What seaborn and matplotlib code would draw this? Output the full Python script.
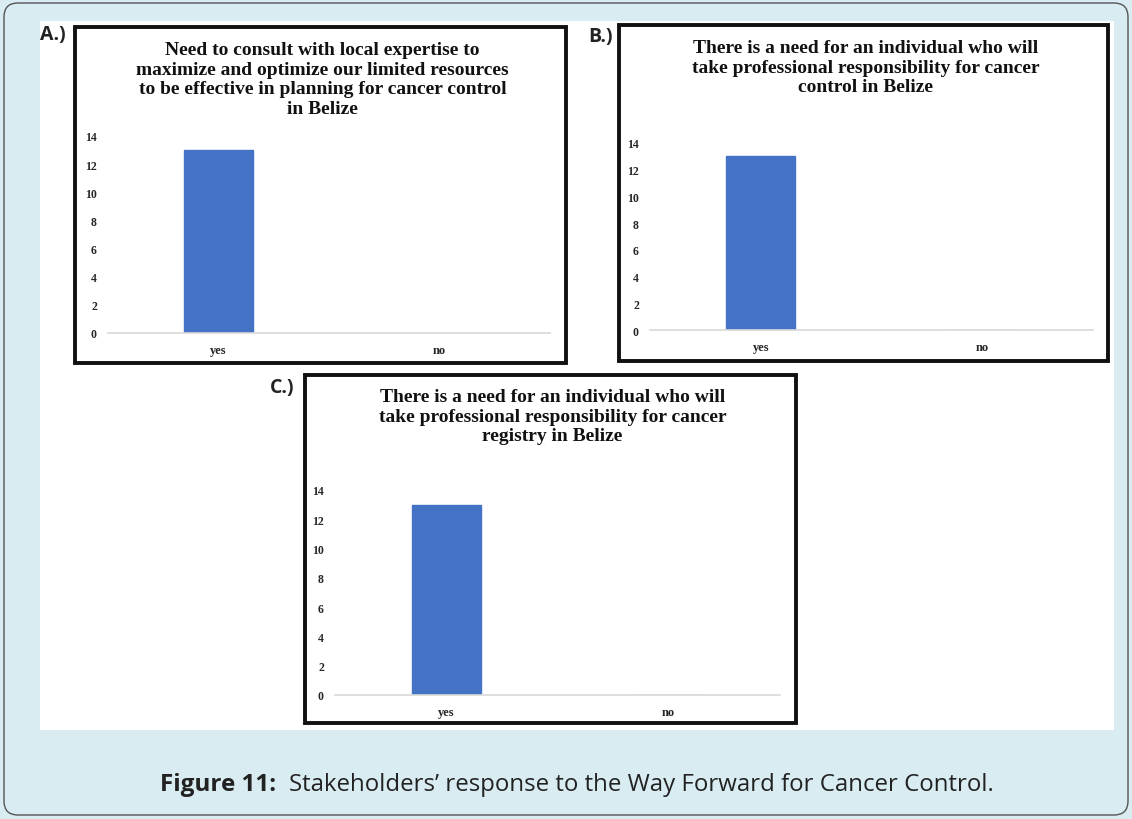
import matplotlib
matplotlib.use('Agg')
import matplotlib.pyplot as plt
import seaborn as sns
from matplotlib.patches import Rectangle, FancyBboxPatch

# Data
categories = ['yes', 'no']
values_a = [13, 0]
values_b = [13, 0]
values_c = [13, 0]
title_a = 'Need to consult with local expertise to\nmaximize and optimize our limited resources\nto be effective in planning for cancer control\nin Belize'
title_b = 'There is a need for an individual who will\ntake professional responsibility for cancer\ncontrol in Belize'
title_c = 'There is a need for an individual who will\ntake professional responsibility for cancer\nregistry in Belize'
y_ticks = [0, 2, 4, 6, 8, 10, 12, 14]

sns.set_style('white')
plt.rcParams['font.family'] = ['Liberation Serif', 'DejaVu Serif']

W, H = 1132, 820
fig = plt.figure(figsize=(W / 100, H / 100), dpi=100)
fig.patch.set_facecolor('#d8ecf1')


def fx(x):
    return x / W


def fy(y):
    return 1 - y / H


# outer rounded border
fig.patches.append(FancyBboxPatch((4, 4), W - 8, H - 8, boxstyle='round,pad=0,rounding_size=14',
                                  transform=None, facecolor='none', edgecolor='#555555', lw=1))
# white content area
fig.patches.append(Rectangle((fx(40), fy(731)), fx(1114 - 40), (731 - 22) / H,
                             transform=fig.transFigure, facecolor='white', edgecolor='none', zorder=0))


def panel(box, axbox, values, title, title_y, label, label_xy):
    x0, y0, x1, y1 = box
    fig.patches.append(Rectangle((fx(x0), fy(y1)), fx(x1 - x0), (y1 - y0) / H,
                                 transform=fig.transFigure, facecolor='white',
                                 edgecolor='#111111', lw=2.8, zorder=1))
    l, t, r, b = axbox
    ax = fig.add_axes([fx(l), fy(b), fx(r - l), (b - t) / H])
    ax.set_zorder(2)
    sns.barplot(x=categories, y=values, ax=ax, color='#4472c4', width=0.31,
                edgecolor='#4472c4', saturation=1)
    ax.set_ylim(0, 14)
    ax.set_xlim(-0.5, 1.5)
    ax.set_yticks(y_ticks)
    ax.set_yticklabels([str(v) for v in y_ticks], fontsize=8.5, fontweight='bold')
    ax.tick_params(axis='both', length=0, pad=8)
    for lab in ax.get_xticklabels():
        lab.set_fontsize(9)
        lab.set_fontweight('bold')
    ax.set_facecolor('none')
    for s in ['top', 'right', 'left']:
        ax.spines[s].set_visible(False)
    ax.spines['bottom'].set_color('#d9d9d9')
    ax.spines['bottom'].set_linewidth(1.2)
    ax.set_xlabel('')
    ax.set_ylabel('')
    fig.text(fx((x0 + x1) / 2 + 2), fy(title_y), title, ha='center', va='top',
             fontsize=14, fontweight='bold', linespacing=1.2, zorder=3, color='#111111')
    fig.text(fx(label_xy[0]), fy(label_xy[1]), label, ha='left', va='center',
             fontsize=14, fontweight='bold', family='Open Sans', color='#222222')


panel((75, 28, 566, 364), (108, 137, 550, 334), values_a, title_a, 42, 'A.)', (40, 35))
panel((619, 26, 1108, 362), (650, 144, 1093, 331), values_b, title_b, 40, 'B.)', (588, 37))
panel((305, 376, 796, 724), (335, 491, 780, 696), values_c, title_c, 389, 'C.)', (270, 388))

# caption
fig.text(fx(160), fy(785), 'Figure 11:', ha='left', va='center', fontsize=17.5,
         fontweight='bold', family='Open Sans', color='#222222')
fig.text(fx(289), fy(785), 'Stakeholders\u2019 response to the Way Forward for Cancer Control.',
         ha='left', va='center', fontsize=17.3, family='Open Sans', color='#222222')

fig.savefig('out.png', dpi=100, facecolor=fig.get_facecolor())
